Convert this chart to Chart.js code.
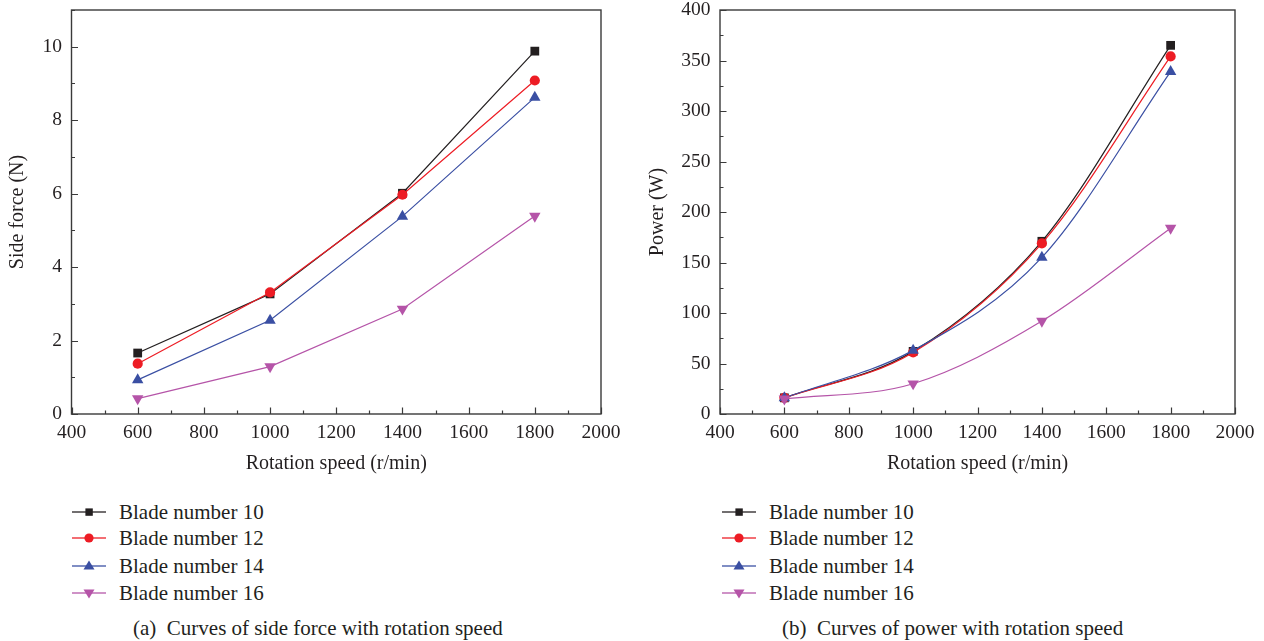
<!DOCTYPE html>
<html>
<head>
<meta charset="utf-8">
<script src="https://cdn.jsdelivr.net/npm/chart.js@4.4.1/dist/chart.umd.min.js"></script>
<style>
  html, body { margin:0; padding:0; background:#fff; }
  body { width:1264px; height:641px; position:relative; overflow:hidden; font-family:"Liberation Serif","DejaVu Serif",serif; color:#231f20; }
  .cv { position:absolute; top:0; }
  .leg { position:absolute; font-size:21px; line-height:20px; white-space:nowrap; }
  .leg svg { position:absolute; left:0; top:0; }
  .leg span { position:absolute; top:0; }
  .cap { position:absolute; font-size:21px; white-space:nowrap; line-height:20px; }
</style>
</head>
<body>
<div class="cv" id="wa" style="left:0;width:640px;height:480px;"><canvas id="ca"></canvas></div>
<div class="cv" id="wb" style="left:640px;width:624px;height:480px;"><canvas id="cb"></canvas></div>
<div id="legA"></div>
<div id="legB"></div>
<div class="cap" style="left:133px;top:618px;">(a)&nbsp; Curves of side force with rotation speed</div>
<div class="cap" style="left:782px;top:618px;">(b)&nbsp; Curves of power with rotation speed</div>
<script>
// ---- data ----
const speeds = [600, 1000, 1400, 1800];
const seriesNames = ["Blade number 10", "Blade number 12", "Blade number 14", "Blade number 16"];
const sideForce10 = [1.66, 3.27, 6.01, 9.88];
const sideForce12 = [1.37, 3.31, 5.97, 9.08];
const sideForce14 = [0.93, 2.55, 5.38, 8.62];
const sideForce16 = [0.42, 1.29, 2.86, 5.39];
const power10 = [16, 62, 171, 365];
const power12 = [16, 61, 169, 354];
const power14 = [16, 63, 155, 339];
const power16 = [15, 30, 92, 184];
const xTicks = [400, 600, 800, 1000, 1200, 1400, 1600, 1800, 2000];
const sideForceTicks = [0, 2, 4, 6, 8, 10];
const powerTicks = [0, 50, 100, 150, 200, 250, 300, 350, 400];

// ---- styles ----
const colors = ["#231f20", "#ed1c24", "#3a4fa3", "#b554a8"];
const markers = ["rect", "circle", "triangle", "triangle"];
const markerRot = [0, 0, 0, 180];
const markerRad = [6.2, 5.1, 6.6, 6.6];
const FONT = "'Liberation Serif', 'DejaVu Serif', serif";
const AXIS = "#3a3a3a";

function makeDatasets(arrs, smooth) {
  return arrs.map((vals, i) => ({
    label: seriesNames[i],
    data: speeds.map((s, k) => ({x: s, y: vals[k]})),
    borderColor: colors[i],
    backgroundColor: colors[i],
    borderWidth: 1.2,
    pointStyle: markers[i],
    rotation: markerRot[i],
    pointRadius: markerRad[i],
    pointHoverRadius: markerRad[i],
    pointBorderWidth: 0,
    tension: smooth ? 0.35 : 0,
    cubicInterpolationMode: smooth ? 'monotone' : 'default',
    order: 4 - i,
    clip: false
  }));
}

function boxPlugin(xMinor, yMinor, xMajor, yMajor) {
  return {
    id: 'box',
    afterDraw(chart) {
      const {ctx, chartArea: a, scales: {x, y}} = chart;
      ctx.save();
      ctx.strokeStyle = AXIS;
      ctx.lineWidth = 1.4;
      ctx.strokeRect(a.left, a.top, a.right - a.left, a.bottom - a.top);
      ctx.lineWidth = 1.2;
      ctx.beginPath();
      for (let v = x.min; v <= x.max + 1e-9; v += xMinor) {
        const px = Math.round(x.getPixelForValue(v)) + 0.5;
        const major = Math.abs(v / xMajor - Math.round(v / xMajor)) < 1e-6;
        const len = major ? 6.5 : 3.5;
        ctx.moveTo(px, a.bottom);
        ctx.lineTo(px, a.bottom - len);
      }
      for (let v = y.min; v <= y.max + 1e-9; v += yMinor) {
        const py = Math.round(y.getPixelForValue(v)) + 0.5;
        const major = Math.abs(v / yMajor - Math.round(v / yMajor)) < 1e-6;
        const len = major ? 6.5 : 3.5;
        ctx.moveTo(a.left, py);
        ctx.lineTo(a.left + len, py);
      }
      ctx.stroke();
      ctx.restore();
    }
  };
}

function makeChart(id, datasets, yTitle, yMax, yTickVals, yMinor, yMajor, leftW, rightPad) {
  return new Chart(document.getElementById(id), {
    type: 'line',
    data: { datasets },
    options: {
      responsive: true,
      maintainAspectRatio: false,
      animation: false,
      events: [],
      layout: { padding: { left: 0, right: rightPad, top: 10, bottom: 0 } },
      plugins: { legend: { display: false }, tooltip: { enabled: false } },
      scales: {
        x: {
          type: 'linear', min: 400, max: 2000,
          afterBuildTicks: s => { s.ticks = xTicks.map(v => ({value: v})); },
          afterFit: s => { s.height = 66; s.paddingLeft = 0; s.paddingRight = 0; },
          grid: { display: false, drawTicks: false },
          border: { display: false },
          ticks: { color: "#231f20", padding: 7, maxRotation: 0, autoSkip: false,
                   callback: v => String(v),
                   font: { family: FONT, size: 19.5 } },
          title: { display: true, text: 'Rotation speed (r/min)', color: "#231f20",
                   font: { family: FONT, size: 20 }, padding: { top: 0, bottom: 4 } }
        },
        y: {
          type: 'linear', min: 0, max: yMax,
          afterBuildTicks: s => { s.ticks = yTickVals.map(v => ({value: v})); },
          afterFit: s => { s.width = leftW; s.paddingTop = 0; s.paddingBottom = 0; },
          grid: { display: false, drawTicks: false },
          border: { display: false },
          ticks: { color: "#231f20", padding: 9.5, autoSkip: false,
                   callback: v => String(v),
                   font: { family: FONT, size: 19.5 } },
          title: { display: true, text: yTitle, color: "#231f20",
                   font: { family: FONT, size: 20 }, padding: { top: 6, bottom: 0 } }
        }
      }
    },
    plugins: [boxPlugin(100, yMinor, 200, yMajor)]
  });
}

makeChart('ca', makeDatasets([sideForce10, sideForce12, sideForce14, sideForce16], false),
  'Side force (N)', 11, sideForceTicks, 1, 2, 71.5, 39);
makeChart('cb', makeDatasets([power10, power12, power14, power16], true),
  'Power (W)', 400, powerTicks, 25, 50, 80, 29);

// ---- legends (HTML) ----
function markerSvg(i) {
  const c = colors[i];
  let m = '';
  if (markers[i] === 'rect') m = `<rect x="13.4" y="6.4" width="7.4" height="7.4" fill="${c}"/>`;
  else if (markers[i] === 'circle') m = `<circle cx="17" cy="10" r="4.6" fill="${c}"/>`;
  else if (markerRot[i] === 0) m = `<polygon points="17,4.4 22.5,13.6 11.5,13.6" fill="${c}"/>`;
  else m = `<polygon points="17,15.6 22.5,6.4 11.5,6.4" fill="${c}"/>`;
  return `<svg width="34" height="20"><line x1="0" y1="10" x2="34" y2="10" stroke="${c}" stroke-width="1.4" opacity="0.85"/>${m}</svg>`;
}
function buildLegend(elId, lineX, textX) {
  const rows = [512, 538, 566, 593];
  const el = document.getElementById(elId);
  el.innerHTML = seriesNames.map((n, i) =>
    `<div class="leg" style="left:${lineX}px;top:${rows[i] - 10}px;">${markerSvg(i)}<span style="left:${textX - lineX}px;">${n}</span></div>`
  ).join('');
}
buildLegend('legA', 72, 119);
buildLegend('legB', 722, 769);
</script>
</body>
</html>
